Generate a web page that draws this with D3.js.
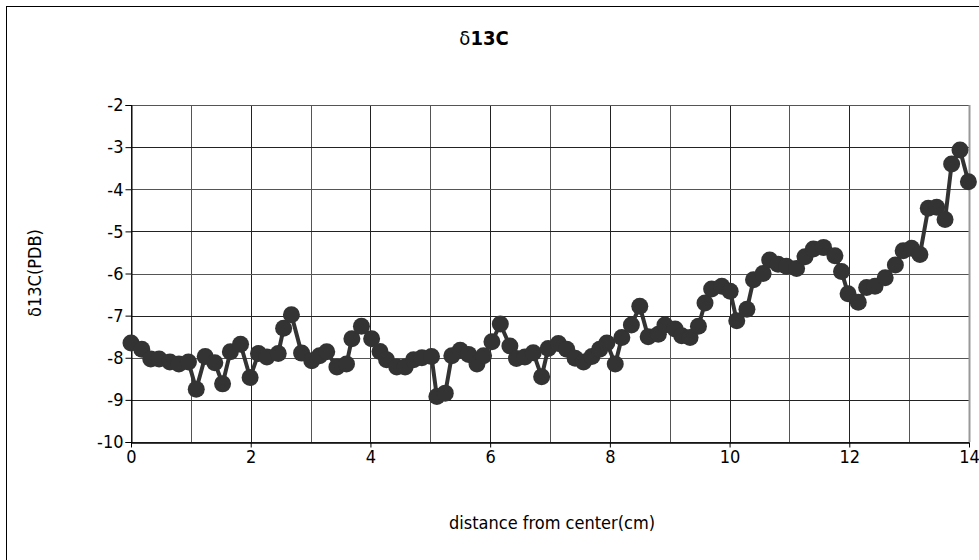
<!DOCTYPE html>
<html>
<head>
  <meta charset="utf-8">
  <style>
    body { margin: 0; background: #fff; }
    svg text { font-family: "DejaVu Sans Condensed", "Liberation Sans Narrow", "Liberation Sans", sans-serif; fill: #000; }
  </style>
</head>
<body>
  <svg id="chart" width="979" height="560"></svg>

  <script src="https://d3js.org/d3.v7.min.js"></script>
  <script>
    // distance from center (cm)
    const distance = [
      0.00, 0.18, 0.33, 0.47, 0.65, 0.80, 0.96, 1.09, 1.24, 1.40,
      1.53, 1.66, 1.83, 1.99, 2.13, 2.27, 2.46, 2.55, 2.68, 2.85,
      3.02, 3.15, 3.27, 3.44, 3.60, 3.69, 3.85, 4.02, 4.16, 4.27,
      4.44, 4.58, 4.72, 4.86, 5.02, 5.11, 5.25, 5.36, 5.50, 5.64,
      5.78, 5.89, 6.03, 6.17, 6.33, 6.44, 6.58, 6.72, 6.86, 6.97,
      7.14, 7.28, 7.42, 7.56, 7.70, 7.83, 7.95, 8.09, 8.20, 8.36,
      8.50, 8.64, 8.81, 8.92, 9.09, 9.20, 9.34, 9.48, 9.59, 9.70,
      9.87, 10.01, 10.12, 10.29, 10.40, 10.56, 10.67, 10.81, 10.95, 11.12,
      11.26, 11.40, 11.57, 11.76, 11.87, 11.98, 12.15, 12.29, 12.43, 12.60,
      12.77, 12.90, 13.04, 13.18, 13.32, 13.46, 13.60, 13.71, 13.85, 13.99
    ];
    // δ13C (PDB)
    const d13C = [
      -7.65, -7.80, -8.03, -8.03, -8.10, -8.15, -8.10, -8.75, -7.97, -8.12,
      -8.62, -7.86, -7.68, -8.47, -7.90, -7.98, -7.90, -7.30, -6.98, -7.89,
      -8.07, -7.95, -7.86, -8.22, -8.15, -7.55, -7.25, -7.55, -7.85, -8.05,
      -8.22, -8.22, -8.05, -8.00, -7.97, -8.92, -8.84, -7.95, -7.82, -7.92,
      -8.15, -7.95, -7.62, -7.20, -7.72, -8.02, -7.98, -7.88, -8.45, -7.78,
      -7.66, -7.80, -8.01, -8.10, -7.97, -7.80, -7.65, -8.15, -7.52, -7.22,
      -6.78, -7.50, -7.44, -7.22, -7.32, -7.48, -7.52, -7.25, -6.70, -6.37,
      -6.30, -6.42, -7.12, -6.85, -6.15, -6.00, -5.68, -5.78, -5.83, -5.88,
      -5.60, -5.42, -5.38, -5.58, -5.95, -6.48, -6.68, -6.33, -6.30, -6.10,
      -5.80, -5.46, -5.40, -5.55, -4.45, -4.43, -4.72, -3.40, -3.07, -3.82
    ];
    const xTicks = [0, 2, 4, 6, 8, 10, 12, 14];
    const xGrid = d3.range(0, 15, 1);
    const yTicks = [-10, -9, -8, -7, -6, -5, -4, -3, -2];

    const data = distance.map((d, i) => ({ x: d, y: d13C[i] }));

    const svg = d3.select("#chart");
    const plot = { left: 131, right: 969, top: 105, bottom: 442 };

    // outer frame
    svg.append("rect")
      .attr("x", 6.5).attr("y", 6.5)
      .attr("width", 1000).attr("height", 600)
      .attr("fill", "#fff")
      .attr("stroke", "#000")
      .attr("stroke-width", 1);

    const x = d3.scaleLinear().domain([0, 14]).range([plot.left, plot.right]);
    const y = d3.scaleLinear().domain([-10, -2]).range([plot.bottom, plot.top]);

    // gridlines
    svg.append("g")
      .selectAll("line")
      .data(xGrid)
      .join("line")
      .attr("x1", d => Math.round(x(d)) + 0.5)
      .attr("x2", d => Math.round(x(d)) + 0.5)
      .attr("y1", plot.top).attr("y2", plot.bottom)
      .attr("stroke", (d, i) => i % 2 ? "#555" : "#222")
      .attr("stroke-width", 1);

    svg.append("g")
      .selectAll("line")
      .data(yTicks)
      .join("line")
      .attr("x1", plot.left).attr("x2", plot.right)
      .attr("y1", d => Math.round(y(d)) + 0.5)
      .attr("y2", d => Math.round(y(d)) + 0.5)
      .attr("stroke", (d, i) => i % 2 ? "#222" : "#555")
      .attr("stroke-width", 1);

    // right plot border
    svg.append("line")
      .attr("x1", plot.right + 0.5).attr("x2", plot.right + 0.5)
      .attr("y1", plot.top).attr("y2", plot.bottom)
      .attr("stroke", "#999").attr("stroke-width", 2);

    // axes
    const yAxis = svg.append("g")
      .attr("transform", `translate(${plot.left + 0.5},0)`)
      .call(d3.axisLeft(y).tickValues(yTicks).tickSize(6).tickPadding(2)
        .tickFormat(d => String(d)));
    yAxis.select(".domain").attr("stroke", "#000");
    yAxis.selectAll(".tick line").attr("stroke", "#000");
    yAxis.selectAll("text").style("font-size", "18px");

    const xAxis = svg.append("g")
      .attr("transform", `translate(0,${plot.bottom + 0.5})`)
      .call(d3.axisBottom(x).tickValues(xTicks).tickSize(5).tickPadding(3).tickSizeOuter(0));
    xAxis.select(".domain").attr("stroke", "#000").attr("stroke-width", 1.5);
    xAxis.selectAll(".tick line").attr("stroke", "#000");
    xAxis.selectAll("text").style("font-size", "18px");

    // series
    const line = d3.line().x(d => x(d.x)).y(d => y(d.y));
    svg.append("path")
      .datum(data)
      .attr("d", line)
      .attr("fill", "none")
      .attr("stroke", "#333")
      .attr("stroke-width", 4)
      .attr("stroke-linejoin", "round");

    svg.append("g")
      .selectAll("circle")
      .data(data)
      .join("circle")
      .attr("cx", d => x(d.x))
      .attr("cy", d => y(d.y))
      .attr("r", 8.5)
      .attr("fill", "#333");

    // title
    const title = svg.append("text")
      .attr("x", 484).attr("y", 45)
      .attr("text-anchor", "middle")
      .style("font-size", "20px");
    title.append("tspan").text("\u03b4");
    title.append("tspan").attr("font-weight", "bold").text("13C");

    // axis titles
    svg.append("text")
      .attr("x", 552).attr("y", 529)
      .attr("text-anchor", "middle")
      .style("font-size", "18px")
      .text("distance from center(cm)");

    svg.append("text")
      .attr("transform", "translate(41,273) rotate(-90)")
      .attr("text-anchor", "middle")
      .style("font-size", "18px")
      .text("\u03b413C(PDB)");
  </script>
</body>
</html>
